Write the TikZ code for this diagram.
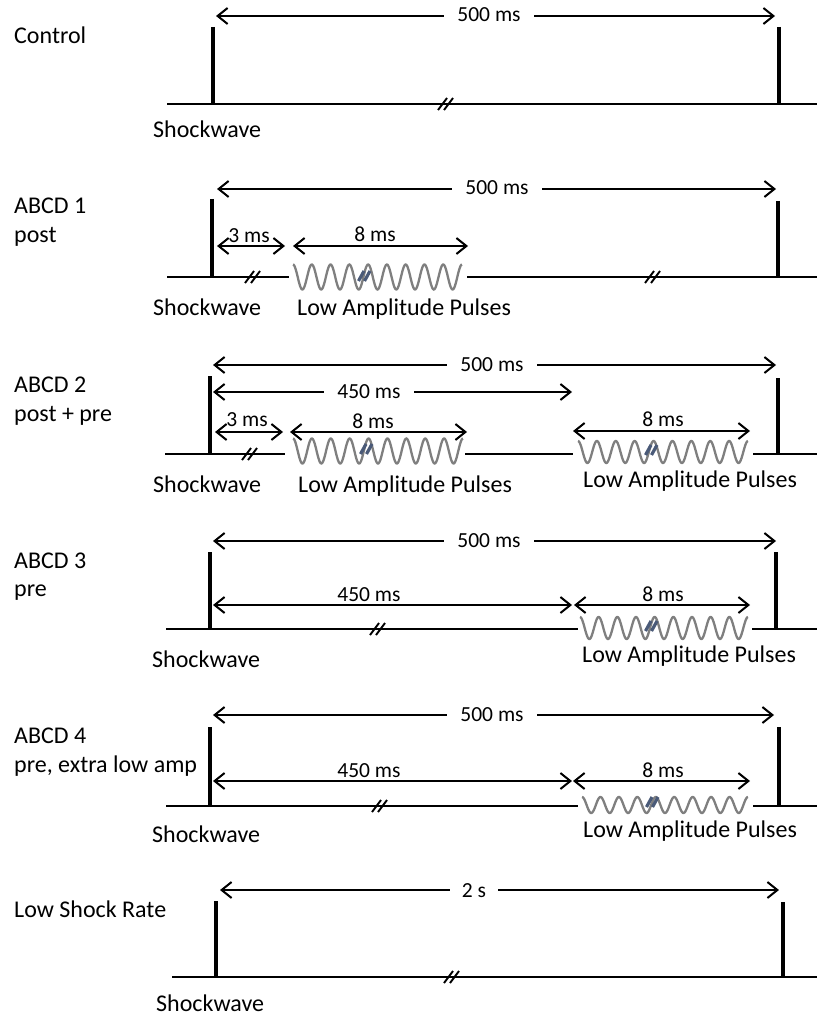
\documentclass[tikz,border=0pt]{standalone}
\usepackage{fontspec}
\setmainfont{Carlito}
\usetikzlibrary{arrows.meta}
\definecolor{markblue}{HTML}{4A5A78}
\definecolor{wavegray}{HTML}{7F7F7F}
\newcommand\mywave[4]{\draw[wavestyle] plot[domain=0:1,samples=241,smooth] ({#1+\x*(#2-#1)},{#3-#4*cos(\x*3240)});}
\newcommand\dimarr[4]{\coordinate (#1-a) at (#2,#4); \coordinate (#1-b) at (#3,#4); \draw[dimline] (#1-a) -- (#1-b);}
\begin{document}
\begin{tikzpicture}[x=1pt,y=-1pt,
  lbl/.style={inner sep=0pt, anchor=base west, font=\fontsize{24}{28}\selectfont},
  ms/.style={inner sep=0pt, anchor=base, font=\fontsize{21.5}{25}\selectfont},
  gapms/.style={ms, fill=white, inner xsep=13pt, inner ysep=3pt},
  bar/.style={line width=4.5pt},
  baseln/.style={line width=2.6pt},
  dimline/.style={line width=2pt, {Straight Barb[length=10pt,width=16pt]}-{Straight Barb[length=10pt,width=16pt]}},
  wavestyle/.style={wavegray, line width=2.3pt},
  brkline/.style={line width=1.9pt},
  markline/.style={markblue, line width=3.2pt},
  brkmark/.pic={\draw[brkline] (-8,6) -- (1,-6); \draw[brkline] (-2,6) -- (7,-6);},
  bluemark/.pic={\draw[markline] (-5.5,5) -- (0,-5); \draw[markline] (0.5,5) -- (6,-5);}
]
\useasboundingbox (0,0) rectangle (817,1016);

% ---------- Panel 1: Control ----------
\node[lbl] (l1) at (14,44) {Control};
\draw[baseln] (167,104) -- (817,104);
\draw[bar] (213,27) -- (213,104);
\draw[bar] (779,27) -- (779,104);
\pic at (446,104) {brkmark};
\dimarr{a1}{216}{775}{16}
\node[gapms] (t1) at (489,22) {500 ms};
\node[lbl] (s1) at (153,138) {Shockwave};

% ---------- Panel 2: ABCD 1 post ----------
\node[lbl] (l2) at (14,214) {ABCD 1};
\node[lbl] (l2b) at (14,243) {post};
\draw[baseln] (167,277) -- (289,277);
\draw[baseln] (467,277) -- (817,277);
\mywave{293}{462}{277}{12.5}
\draw[bar] (212,199) -- (212,277);
\draw[bar] (778,201) -- (778,277);
\pic at (253,277) {brkmark};
\pic at (653,277) {brkmark};
\pic at (364,276) {bluemark};
\dimarr{a2}{217}{776}{189}
\node[gapms] (t2) at (497,195) {500 ms};
\dimarr{b2}{217}{285}{246}
\node[ms] (u2) at (249,242) {3 ms};
\dimarr{c2}{293}{468}{246}
\node[ms] (v2) at (375,241) {8 ms};
\node[lbl] (s2) at (153,315) {Shockwave};
\node[lbl] (p2) at (297,315) {Low Amplitude Pulses};

% ---------- Panel 3: ABCD 2 post + pre ----------
\node[lbl] (l3) at (14,392) {ABCD 2};
\node[lbl] (l3b) at (14,421) {post + pre};
\draw[baseln] (165,454) -- (285,454);
\draw[baseln] (465,454) -- (573,454);
\draw[baseln] (753,454) -- (817,454);
\mywave{293}{463}{451}{12.5}
\mywave{578}{748}{452}{11}
\draw[bar] (210,376) -- (210,454);
\draw[bar] (778,378) -- (778,454);
\pic at (250,454) {brkmark};
\pic at (366,449) {bluemark};
\pic at (651,450) {bluemark};
\dimarr{a3}{213}{776}{365}
\node[gapms] (t3) at (492,371) {500 ms};
\dimarr{d3}{213}{572}{392}
\node[gapms] (w3) at (369,398) {450 ms};
\dimarr{b3}{215}{283}{432}
\node[ms] (u3) at (247,426) {3 ms};
\dimarr{c3}{290}{467}{432}
\node[ms] (v3) at (373,428) {8 ms};
\dimarr{e3}{573}{750}{431}
\node[ms] (x3) at (663,426) {8 ms};
\node[lbl] (s3) at (153,492) {Shockwave};
\node[lbl] (p3) at (298,492) {Low Amplitude Pulses};
\node[lbl] (q3) at (583,487) {Low Amplitude Pulses};

% ---------- Panel 4: ABCD 3 pre ----------
\node[lbl] (l4) at (14,568) {ABCD 3};
\node[lbl] (l4b) at (14,596) {pre};
\draw[baseln] (166,629) -- (578,629);
\draw[baseln] (752,629) -- (817,629);
\mywave{580}{748}{628}{11}
\draw[bar] (210,552) -- (210,629);
\draw[bar] (776,552) -- (776,629);
\pic at (378,629) {brkmark};
\pic at (651,626) {bluemark};
\dimarr{a4}{213}{776}{541}
\node[gapms] (t4) at (489,547) {500 ms};
\dimarr{d4}{213}{572}{605}
\node[ms] (w4) at (369,601) {450 ms};
\dimarr{e4}{574}{750}{605}
\node[ms] (x4) at (663,601) {8 ms};
\node[lbl] (s4) at (152,667) {Shockwave};
\node[lbl] (q4) at (582,662) {Low Amplitude Pulses};

% ---------- Panel 5: ABCD 4 pre, extra low amp ----------
\node[lbl] (l5) at (14,743) {ABCD 4};
\node[lbl] (l5b) at (14,772) {pre, extra low amp};
\draw[baseln] (166,806) -- (578,806);
\draw[baseln] (753,806) -- (817,806);
\mywave{582}{748}{805}{8}
\draw[bar] (210,727) -- (210,806);
\draw[bar] (779,727) -- (779,806);
\pic at (380,806) {brkmark};
\pic at (652,802) {bluemark};
\dimarr{a5}{213}{774}{715}
\node[gapms] (t5) at (492,721) {500 ms};
\dimarr{d5}{213}{572}{781}
\node[ms] (w5) at (369,777) {450 ms};
\dimarr{e5}{573}{750}{781}
\node[ms] (x5) at (663,777) {8 ms};
\node[lbl] (s5) at (152,842) {Shockwave};
\node[lbl] (q5) at (583,837) {Low Amplitude Pulses};

% ---------- Panel 6: Low Shock Rate ----------
\node[lbl] (l6) at (14,917) {Low Shock Rate};
\draw[baseln] (172,977) -- (817,977);
\draw[bar] (216,901) -- (216,977);
\draw[bar] (783,902) -- (783,977);
\pic at (452,977) {brkmark};
\dimarr{a6}{220}{779}{890}
\node[gapms, inner xsep=12pt] (t6) at (474,897) {2 s};
\node[lbl] (s6) at (156,1011) {Shockwave};
\end{tikzpicture}
\end{document}
